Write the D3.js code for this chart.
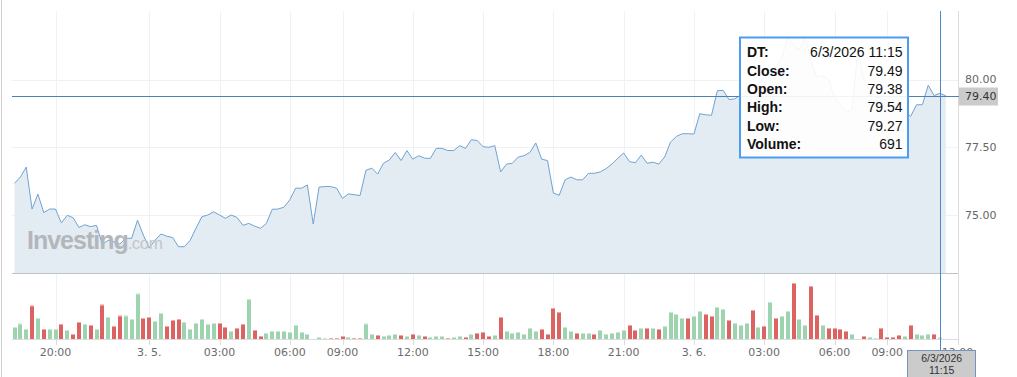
<!DOCTYPE html>
<html><head><meta charset="utf-8">
<script src="https://cdn.jsdelivr.net/npm/d3@7"></script>
<style>html,body{margin:0;padding:0;background:#fff;overflow:hidden}</style>
</head><body><svg id="c" width="1017" height="377"></svg>
<script>
// ---- data (15-minute bars, indexed) ----
const closes = [76.17,76.40,76.77,75.22,75.77,75.09,75.22,75.22,74.71,74.99,
74.90,74.54,74.64,74.57,74.62,73.91,74.07,74.01,73.93,74.14,
74.14,74.81,74.26,73.79,74.07,74.30,74.22,74.17,73.83,73.83,
74.07,74.52,74.94,75.00,75.12,75.00,74.88,75.00,74.91,74.62,
74.69,74.59,74.51,74.69,75.21,75.22,75.29,75.56,75.99,75.99,
76.11,74.67,76.03,76.05,76.05,75.99,75.61,75.78,75.75,75.72,
76.65,76.73,76.51,76.91,77.03,77.31,77.01,77.38,77.06,77.19,
77.10,77.09,77.46,77.46,77.38,77.38,77.56,77.46,77.78,77.75,
77.52,77.50,77.56,76.59,76.88,76.91,77.14,77.19,77.31,77.66,
77.06,77.01,75.81,75.73,76.30,76.40,76.30,76.30,76.54,76.54,
76.59,76.71,76.88,77.09,77.29,76.97,76.93,77.21,76.91,76.95,
76.88,77.14,77.69,77.90,78.00,78.00,77.99,78.74,78.70,78.68,
79.59,79.60,79.26,79.29,79.44,79.56,79.70,79.85,80.07,80.26,
80.44,80.81,81.56,81.26,81.11,81.56,80.67,80.07,80.15,80.00,
79.33,79.11,78.81,78.89,81.11,80.00,79.56,79.37,79.30,79.22,
79.11,78.96,78.81,78.64,79.07,79.07,79.79,79.41,79.49,79.40];
const volumes = [6310,8050,5260,17520,11050,5260,5260,5260,7890,4730,
2630,8940,7890,7360,5260,18040,11570,6840,12260,12260,
10520,23830,11050,11570,9470,13680,6840,9990,10520,8940,
5260,8420,10520,7890,8420,8420,6310,4210,5790,7890,
21040,4730,1580,3160,4210,4210,4210,3680,7360,3680,
2630,0,1050,530,530,530,1580,1050,530,530,
8050,2630,2100,1580,2100,2630,2100,1580,2630,2100,
1580,1050,1580,1580,530,1050,1580,1050,2630,3160,
3680,1580,2100,11570,4210,3160,3680,2630,5790,4210,
5260,2630,16310,14200,6310,4210,3160,3160,3160,2630,
4730,2630,3160,3680,4730,7360,4730,5790,5790,5790,
5260,6840,14200,13150,11050,11050,12100,14730,13150,12100,
16830,15780,9990,8420,7360,8420,15250,6310,6840,19460,
11050,12100,14730,29460,10520,7360,27880,12620,7360,5790,
5790,5260,4210,2630,0,1580,1050,530,5790,1050,
1050,2100,1580,7360,2630,2100,2630,2630,691,0];
// candle direction per bar: u = up (green), d = down (red)
const barDirRows = ["uuududuudu","ddudududdu","uudduudddu","uuuuuddudd",
"udduuuuuuu","uuuudddudd","uuduuududu","duuuduudud",
"dduduuuuuu","dddduuduud","uuuuuddudu","duuuuduudd",
"uuduuududu","duuduuddud","ddduuduudd","dduduuuduu"];
const barDir = barDirRows.join("").split("");
const tickIndex = [7,23,35,47,56,68,80,92,104,116,128,140,149,161];
const tickLabels = ["20:00","3. 5.","03:00","06:00","09:00","12:00","15:00","18:00","21:00","3. 6.","03:00","06:00","09:00","12:00"];
const priceTicks = [75, 77.5, 80];
const lastPrice = 79.40;
const hoverIndex = 158;
const tooltipLabels = ["DT:","Close:","Open:","High:","Low:","Volume:"];
const tooltipValues = ["6/3/2026 11:15","79.49","79.38","79.54","79.27","691"];
const hoverDate = "6/3/2026", hoverTime = "11:15";

// ---- drawing ----
const svg = d3.select("#c");
const L = 12, R = 959, T = 11, PB = 273, VB = 339;
const x = d3.scaleLinear().domain([0,159]).range([14.5,945.8]);
const y = d3.scaleLinear().domain([72.86,82.53]).range([PB,T]);
const yv = d3.scaleLinear().domain([0,30000]).range([VB,282]);
const px = v => Math.round(v)+0.5;

const defs = svg.append("defs");
defs.append("clipPath").attr("id","hoverclip").append("rect")
  .attr("x",0).attr("y",0).attr("width",1017).attr("height",350.5);

// left border
svg.append("line").attr("x1",1.5).attr("x2",1.5).attr("y1",0).attr("y2",377).attr("stroke","#d0d0d0");

// grid
svg.append("g").selectAll("line").data(tickIndex).join("line")
  .attr("x1",d=>px(x(d))).attr("x2",d=>px(x(d))).attr("y1",T).attr("y2",VB)
  .attr("stroke","#f0f1f3");
svg.append("g").selectAll("line").data(priceTicks).join("line")
  .attr("x1",L).attr("x2",R).attr("y1",d=>px(y(d))).attr("y2",d=>px(y(d)))
  .attr("stroke","#f0f1f3");

// area + line
const idx = d3.range(closes.length);
svg.append("path").datum(idx)
  .attr("d", d3.area().x(i=>x(i)).y0(PB).y1(i=>y(closes[i])))
  .attr("fill","#e4ecf3");
svg.append("path").datum(idx)
  .attr("d", d3.line().x(i=>x(i)).y(i=>y(closes[i])))
  .attr("fill","none").attr("stroke","#6fa3d3").attr("stroke-width",1);

// price panel bottom border
svg.append("line").attr("x1",L).attr("x2",R).attr("y1",PB+0.5).attr("y2",PB+0.5).attr("stroke","#bfc3c8");

// volume bars
const col = {u:"#9dd3ae", d:"#dd6262"}, cap = {u:"#c9e8d2", d:"#eda9a9"};
const bars = svg.append("g");
idx.forEach(i=>{
  const v = volumes[i]; if(!v) return;
  const top = yv(v), bx = Math.round(x(i)-2);
  const h = VB - top;
  bars.append("rect").attr("x",bx).attr("y",top).attr("width",4).attr("height",h).attr("fill",col[barDir[i]]);
  bars.append("rect").attr("x",bx).attr("y",top).attr("width",4).attr("height",Math.min(1,h)).attr("fill",cap[barDir[i]]);
});

// axes lines
svg.append("line").attr("x1",L).attr("x2",R).attr("y1",VB+0.5).attr("y2",VB+0.5).attr("stroke","#dcdcdc");
svg.append("line").attr("x1",R-0.5).attr("x2",R-0.5).attr("y1",T).attr("y2",VB+6).attr("stroke","#dcdcdc");
svg.append("g").selectAll("line").data(tickIndex).join("line")
  .attr("x1",d=>px(x(d))).attr("x2",d=>px(x(d))).attr("y1",VB).attr("y2",VB+6).attr("stroke","#dcdcdc");

// bottom tick labels (the last one sits under the hover label, as in the original)
svg.append("g").selectAll("text").data(tickIndex).join("text")
  .attr("x",d=>x(d)).attr("y",352).attr("text-anchor","middle").attr("dominant-baseline","central")
  .attr("font-family","DejaVu Sans").attr("font-size",11).attr("fill","#6b6b6b")
  .attr("clip-path",(d,k)=>k===tickIndex.length-1 ? "url(#hoverclip)" : null)
  .text((d,k)=>tickLabels[k]);

// right axis labels
svg.append("g").selectAll("text").data(priceTicks).join("text")
  .attr("x",965).attr("y",d=>y(d)).attr("dominant-baseline","central")
  .attr("font-family","DejaVu Sans").attr("font-size",11).attr("fill","#666")
  .text(d=>d3.format(".2f")(d));

// watermark
const wm = svg.append("text").attr("x",27).attr("y",249).attr("font-family","Liberation Sans, Arial")
  .attr("fill","#b3b6ba");
wm.append("tspan").attr("font-weight","bold").attr("font-size",25).attr("letter-spacing",-1).text("Investing");
wm.append("tspan").attr("font-size",17).attr("fill","#c3c6ca").attr("letter-spacing",-0.6).text(".com");

// last price line + label
const yl = px(y(lastPrice));
svg.append("line").attr("x1",L).attr("x2",R).attr("y1",yl).attr("y2",yl).attr("stroke","#4f80b3");
svg.append("rect").attr("x",959).attr("y",yl-9).attr("width",39).attr("height",18).attr("fill","#cbcbcb");
svg.append("text").attr("x",965).attr("y",yl).attr("dominant-baseline","central")
  .attr("font-family","DejaVu Sans").attr("font-size",11).attr("fill","#333").text(d3.format(".2f")(lastPrice));

// crosshair
const xc = px(x(hoverIndex));
svg.append("line").attr("x1",xc).attr("x2",xc).attr("y1",T).attr("y2",350).attr("stroke","#4a88cc");

// bottom hover label
svg.append("rect").attr("x",907.5).attr("y",350.5).attr("width",68).attr("height",30)
  .attr("fill","#cbcbcb").attr("stroke","#7395bd");
svg.append("text").attr("x",941.7).attr("y",357.5).attr("text-anchor","middle").attr("dominant-baseline","central")
  .attr("font-family","Liberation Sans, Arial").attr("font-size",10.5).attr("fill","#333").text(hoverDate);
svg.append("text").attr("x",941.7).attr("y",370).attr("text-anchor","middle").attr("dominant-baseline","central")
  .attr("font-family","Liberation Sans, Arial").attr("font-size",10.5).attr("fill","#333").text(hoverTime);

// tooltip
const tt = svg.append("g");
tt.append("rect").attr("x",740).attr("y",37.5).attr("width",168).attr("height",120)
  .attr("fill","#fff").attr("fill-opacity",0.9).attr("stroke","#4d9cf0").attr("stroke-width",2);
tooltipLabels.forEach((lab,k)=>{
  const ty = 52.3 + k*18.3;
  tt.append("text").attr("x",747).attr("y",ty).attr("dominant-baseline","central")
    .attr("font-family","Liberation Sans, Arial").attr("font-weight","bold").attr("font-size",14).attr("fill","#111").text(lab);
  tt.append("text").attr("x",902.5).attr("y",ty).attr("dominant-baseline","central").attr("text-anchor","end")
    .attr("font-family","Liberation Sans, Arial").attr("font-size",14).attr("fill","#111").text(tooltipValues[k]);
});
</script>
</body></html>
